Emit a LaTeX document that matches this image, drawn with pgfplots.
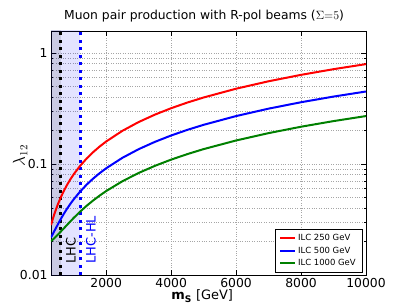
\documentclass[border=0pt]{standalone}
\usepackage{pgfplots}
\pgfplotsset{compat=1.18}
\usepackage{fontspec}
\setmainfont{DejaVu Sans}
\definecolor{mplgreen}{RGB}{0,128,0}
\begin{document}
\begin{tikzpicture}
\path[use as bounding box] (-51bp,-31bp) rectangle (356bp,275bp);
\begin{axis}[
  at={(0,0)}, anchor=south west,
  scale only axis, width=315bp, height=244bp,
  xmin=300, xmax=10000, ymode=log, ymin=0.01, ymax=1.58,
  xtick={2000,4000,6000,8000,10000},
  xticklabels={2000,4000,6000,8000,10000},
  scaled x ticks=false,
  ytick={0.01,0.1,1}, yticklabels={0.01,0.1,1},
  minor ytick={0.02,0.03,0.04,0.05,0.06,0.07,0.08,0.09,0.2,0.3,0.4,0.5,0.6,0.7,0.8,0.9},
  /pgf/number format/assume math mode=true,
  tick label style={font=\fontsize{12.4}{14}\selectfont},
  grid=both,
  major grid style={gray!70, dotted, line width=0.6bp},
  minor grid style={gray!70, dotted, line width=0.6bp},
  tick style={black, line width=0.6bp},
  major tick length=5bp, minor tick length=2.5bp,
  axis line style={line width=0.8bp},
  title={Muon pair production with R-pol beams ($\Sigma{=}5$)},
  title style={font=\fontsize{12.4}{14}\selectfont, at={(axis description cs:0.486,1.037)}, anchor=center},
  xlabel={$\mathbf{m}_{\mathbf{S}}$ [GeV]},
  xlabel style={font=\fontsize{13}{15}\selectfont, at={(axis description cs:0.48,-0.087)}, anchor=center},
  ylabel={$\lambda_{12}$},
  ylabel style={font=\fontsize{16}{18}\selectfont, at={(axis description cs:-0.098,0.49)}, anchor=center},
  legend style={at={(rel axis cs:0.987,0.012)}, anchor=south east, draw=black, fill=white,
    font=\fontsize{8.5}{10}\selectfont, row sep=0.6bp, inner xsep=4bp, inner ysep=3bp},
  legend cell align=left,
  legend image code/.code={\draw[#1, line width=2bp] (0bp,0bp) -- (15bp,0bp);},
]
\addplot[draw=none, fill=blue, fill opacity=0.11, forget plot] coordinates {(300,0.005) (1200,0.005) (1200,3) (300,3)} -- cycle;
\addplot[draw=none, fill=black, fill opacity=0.11, forget plot] coordinates {(300,0.005) (600,0.005) (600,3) (300,3)} -- cycle;
\addplot[black, line width=3bp, dash pattern=on 3bp off 4.5bp, forget plot] coordinates {(600,0.01) (600,1.58)};
\addplot[blue, line width=3bp, dash pattern=on 3bp off 4.5bp, forget plot] coordinates {(1200,0.01) (1200,1.58)};
\node[rotate=90, anchor=base west, font=\fontsize{13}{15}\selectfont, black] at (axis cs:1055,0.0118) {LHC};
\node[rotate=90, anchor=base west, font=\fontsize{13}{15}\selectfont, blue] at (axis cs:1671,0.0118) {LHC-HL};
\addplot[red, line width=2bp] coordinates {
(300,0.0282) (400,0.0352) (500,0.0425) (600,0.0500) (700,0.0576) (800,0.0653) (900,0.0731) (1000,0.0809) (1200,0.0966) (1400,0.1123) (1600,0.1281) (1800,0.1439) (2000,0.1597) (2500,0.1993) (3000,0.2390) (3500,0.2787) (4000,0.3184) (4500,0.3581) (5000,0.3978) (6000,0.4772) (7000,0.5567) (8000,0.6361) (9000,0.7157) (10000,0.7951)};
\addlegendentry{ILC 250 GeV}
\addplot[blue, line width=2bp] coordinates {
(300,0.0218) (400,0.0248) (500,0.0282) (600,0.0319) (700,0.0358) (800,0.0398) (900,0.0439) (1000,0.0481) (1200,0.0566) (1400,0.0653) (1600,0.0740) (1800,0.0828) (2000,0.0916) (2500,0.1138) (3000,0.1361) (3500,0.1584) (4000,0.1808) (4500,0.2032) (5000,0.2256) (6000,0.2705) (7000,0.3155) (8000,0.3604) (9000,0.4053) (10000,0.4503)};
\addlegendentry{ILC 500 GeV}
\addplot[mplgreen, line width=2bp] coordinates {
(300,0.0202) (400,0.0214) (500,0.0229) (600,0.0246) (700,0.0264) (800,0.0284) (900,0.0305) (1000,0.0327) (1200,0.0373) (1400,0.0421) (1600,0.0470) (1800,0.0520) (2000,0.0571) (2500,0.0700) (3000,0.0831) (3500,0.0963) (4000,0.1096) (4500,0.1229) (5000,0.1363) (6000,0.1630) (7000,0.1899) (8000,0.2168) (9000,0.2437) (10000,0.2706)};
\addlegendentry{ILC 1000 GeV}
\end{axis}
\end{tikzpicture}
\end{document}
